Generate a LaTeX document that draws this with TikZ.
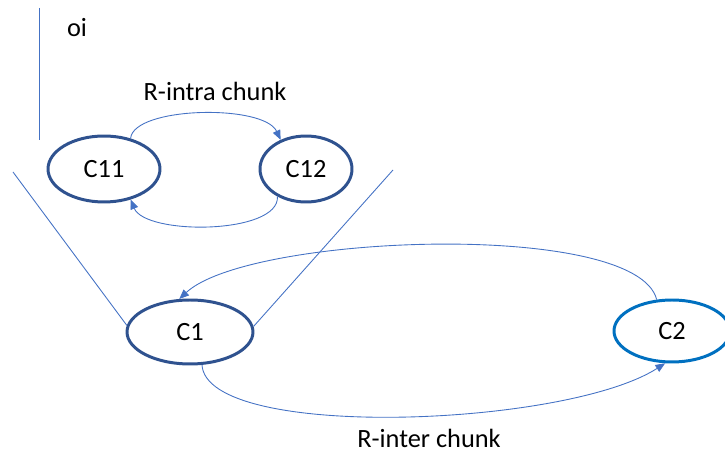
\documentclass[tikz,border=0pt]{standalone}
\usepackage{fontspec}
\setmainfont{Carlito}
\usepackage{xcolor}
\usetikzlibrary{
  	positioning,
  	arrows.meta,
  	shapes.geometric,
  	calc
  }
\definecolor{darkblue}{RGB}{47,82,143}
\definecolor{brightblue}{RGB}{0,112,192}
\definecolor{lineblue}{RGB}{68,114,196}
\tikzstyle{chunk}=[ellipse,draw=darkblue,line width=1.7pt,inner sep=0pt,font=\fontsize{15}{17}\selectfont]
\tikzstyle{rel}=[draw=lineblue,line width=0.5pt,-{Triangle[length=5.5pt,width=4.5pt]}]
\tikzstyle{thin}=[draw=lineblue,line width=0.5pt]
\tikzstyle{lbl}=[font=\fontsize{15}{17}\selectfont]

\begin{document}
\begin{tikzpicture}[x=0.02cm,y=-0.02cm]
\useasboundingbox (0,0) rectangle (725,452);
\node[chunk,minimum width=2.24cm,minimum height=1.32cm] (c11) at (104,169) {C11};
\node[chunk,minimum width=1.84cm,minimum height=1.32cm] (c12) at (306,169) {C12};
\node[chunk,minimum width=2.52cm,minimum height=1.28cm] (c1) at (190,332) {C1};
\node[chunk,draw=brightblue,minimum width=2.32cm,minimum height=1.24cm] (c2) at (672,331) {C2};
\node[lbl] (oi) at (77,28) {oi};
\node[lbl] (intra) at (215,91) {R-intra chunk};
\node[lbl] (inter) at (429,438) {R-inter chunk};
\coordinate (vtop) at (39,8);
\coordinate (vbot) at (39,140);
\coordinate (fl) at (13,172);
\coordinate (fr) at (393,170);
\draw[thin] (vtop) -- (vbot);
\draw[thin] (fl) -- (c1.174);
\draw[thin] (fr) -- (c1.5);
\draw[rel] (c11.49) .. controls +(3,-32) and +(-17,-36) .. (c12.131);
\draw[rel] (c12.224) .. controls +(2,38) and +(15,36) .. (c11.-49);
\draw[rel] (c2.116) .. controls +(-20,-80) and +(70,-65) .. (c1.108);
\draw[rel] (c1.-70) .. controls +(5,76) and +(-100,64) .. (c2.258);
\end{tikzpicture}
\end{document}
